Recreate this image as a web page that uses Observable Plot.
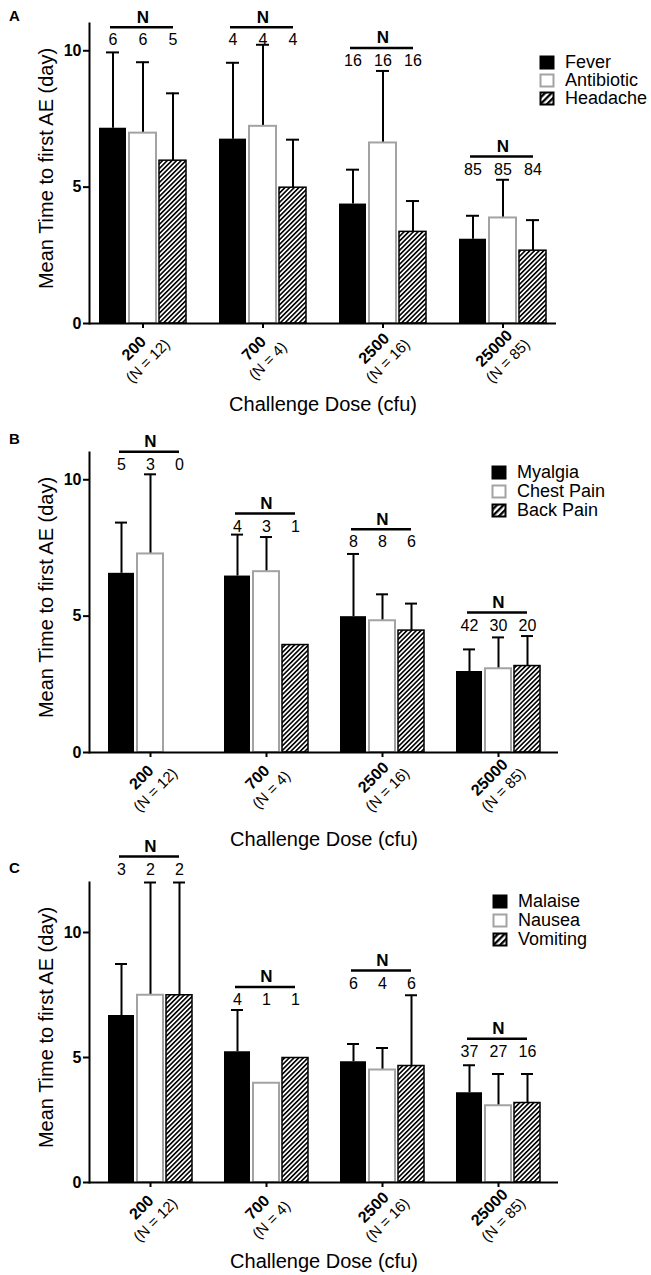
<!DOCTYPE html>
<html><head><meta charset="utf-8">
<script src="https://cdn.jsdelivr.net/npm/d3@7"></script>
<script src="https://cdn.jsdelivr.net/npm/@observablehq/plot@0.6"></script>
<style>
html,body{margin:0;padding:0;background:#fff;}
#page{position:relative;width:651px;height:1275px;overflow:hidden;font-family:"Liberation Sans",Arial,sans-serif;}
.panel{position:absolute;left:0;}
.legend{position:absolute;font-size:18px;color:#000;font-family:"Liberation Sans",Arial,sans-serif;}
.legend .row{display:flex;align-items:center;white-space:nowrap;}
.legend svg{margin-right:10px;flex:none;}
</style></head><body><div id="page"></div>
<script>
const doses = ["200", "700", "2500", "25000"];
const doseN = ["(N = 12)", "(N = 4)", "(N = 16)", "(N = 85)"];

// Panel A
const seriesA = ["Fever", "Antibiotic", "Headache"];
const feverMean = [7.16, 6.76, 4.38, 3.09];
const feverErr = [9.94, 9.56, 5.64, 3.95];
const feverN = [6, 4, 16, 85];
const antibioticMean = [6.98, 7.23, 6.62, 3.87];
const antibioticErr = [9.58, 10.22, 9.26, 5.27];
const antibioticN = [6, 4, 16, 85];
const headacheMean = [5.97, 4.98, 3.36, 2.67];
const headacheErr = [8.44, 6.74, 4.49, 3.79];
const headacheN = [5, 4, 16, 84];
const nLevelA = [10.86, 10.86, 10.1, 6.12];

// Panel B
const seriesB = ["Myalgia", "Chest Pain", "Back Pain"];
const myalgiaMean = [6.57, 6.47, 4.98, 2.97];
const myalgiaErr = [8.43, 7.99, 7.28, 3.78];
const myalgiaN = [5, 4, 8, 42];
const chestMean = [7.28, 6.63, 4.83, 3.07];
const chestErr = [10.2, 7.9, 5.8, 4.22];
const chestN = [3, 3, 8, 30];
const backMean = [null, 3.94, 4.47, 3.17];
const backErr = [null, null, 5.46, 4.27];
const backN = [0, 1, 6, 20];
const nLevelB = [11.03, 8.76, 8.19, 5.13];

// Panel C
const seriesC = ["Malaise", "Nausea", "Vomiting"];
const malaiseMean = [6.68, 5.23, 4.83, 3.59];
const malaiseErr = [8.74, 6.9, 5.54, 4.69];
const malaiseN = [3, 4, 6, 37];
const nauseaMean = [7.49, 3.97, 4.5, 3.07];
const nauseaErr = [12, null, 5.38, 4.34];
const nauseaN = [2, 1, 4, 27];
const vomitingMean = [7.49, 4.98, 4.66, 3.18];
const vomitingErr = [12, null, 7.49, 4.34];
const vomitingN = [2, 1, 6, 16];
const nLevelC = [13.04, 7.82, 8.48, 5.75];

const FONT = "Liberation Sans, Arial, sans-serif";
const GRAY = "#a3a3a3";
const page = document.getElementById("page");

function drawPanel(cfg) {
  const {letter, series, means, errs, counts, nLevel, yMax, top, height, marginTop, marginBottom,
         marginRight, paddingInner, paddingOuter, titleDy, letterDy, legend} = cfg;
  const rows = [];
  const domain = [];
  doses.forEach((dose, i) => {
    if (i > 0) domain.push("gap" + i);
    series.forEach((s, j) => {
      const key = dose + "|" + s;
      domain.push(key);
      rows.push({key, dose, i, j, series: s, mean: means[j][i], err: errs[j][i], n: counts[j][i]});
    });
  });
  const groups = doses.map((dose, i) => ({
    dose, label: doseN[i], y: nLevel[i],
    first: dose + "|" + series[0], mid: dose + "|" + series[1], last: dose + "|" + series[2]
  }));
  const bars = rows.filter(d => d.mean != null);
  const errRows = rows.filter(d => d.err != null);
  const hatchId = "hatch" + letter;
  const styles = [
    {fill: "black"},
    {fill: "white", stroke: GRAY, strokeWidth: 2},
    {fill: `url(#${hatchId})`, stroke: "black", strokeWidth: 1.5}
  ];
  const mid = {textAnchor: "middle", lineAnchor: "middle"};
  const plot = Plot.plot({
    width: 651, height, marginTop, marginBottom, marginLeft: 89, marginRight,
    style: {background: "transparent", fontFamily: FONT, color: "black", overflow: "visible"},
    x: {domain, paddingInner, paddingOuter, axis: null},
    y: {domain: [0, yMax], axis: null},
    marks: [
      Plot.ruleX(errRows, {x: "key", y1: "mean", y2: "err", stroke: "black", strokeWidth: 2}),
      Plot.tickY(errRows, {x: "key", y: "err", stroke: "black", strokeWidth: 2, insetLeft: 7, insetRight: 7}),
      ...styles.map((st, j) => Plot.barY(bars.filter(d => d.j === j), {x: "key", y: "mean", ...st})),
      Plot.ruleY([0], {stroke: "black", strokeWidth: 2}),
      Plot.frame({anchor: "left", stroke: "black", strokeWidth: 2}),
      Plot.axisY({ticks: [0, 5, 10], tickSize: 6, tickPadding: 2, fontSize: 16, fontWeight: "bold", strokeWidth: 2, label: null}),
      Plot.axisX(groups.map(g => g.mid), {tickSize: 5, tickFormat: () => "", strokeWidth: 2, label: null}),
      Plot.text(groups, {x: "mid", frameAnchor: "bottom", text: "dose", rotate: -45, dx: -9, dy: 25, fontSize: 16, fontWeight: "bold", ...mid}),
      Plot.text(groups, {x: "mid", frameAnchor: "bottom", text: "label", rotate: -45, dx: 5, dy: 37.5, fontSize: 15, ...mid}),
      Plot.text(["Challenge Dose (cfu)"], {frameAnchor: "bottom", dy: titleDy, fontSize: 20, ...mid}),
      Plot.text(["Mean Time to first AE (day)"], {frameAnchor: "left", rotate: -90, dx: -43, dy: -5, fontSize: 20, ...mid}),
      Plot.text([letter], {frameAnchor: "top-left", dx: -75, dy: letterDy, fontSize: 15, fontWeight: "bold", ...mid}),
      Plot.ruleY(groups, {y: "y", x1: "first", x2: "last", stroke: "black", strokeWidth: 2.5, insetLeft: 11, insetRight: 13}),
      Plot.text(groups, {x: "mid", y: "y", text: () => "N", dy: -10, fontSize: 17, fontWeight: "bold", ...mid}),
      Plot.text(rows, {x: "key", y: d => nLevel[d.i], text: d => String(d.n), dy: 13, fontSize: 16, ...mid})
    ]
  });
  d3.select(plot).insert("defs", ":first-child").html(
    `<pattern id="${hatchId}" patternUnits="userSpaceOnUse" width="3.3" height="3.3" patternTransform="rotate(45)">` +
    `<rect width="3.3" height="3.3" fill="white"/><rect x="0" y="0" width="1.6" height="3.3" fill="black"/></pattern>`);
  plot.classList.add("panel");
  plot.style.top = top + "px";
  page.appendChild(plot);

  // legend
  const leg = document.createElement("div");
  leg.className = "legend";
  leg.style.left = legend.left + "px";
  leg.style.top = legend.top + "px";
  series.forEach((s, j) => {
    const row = document.createElement("div");
    row.className = "row";
    row.style.height = legend.rowH + "px";
    const pid = "lh" + letter;
    let sw;
    if (j === 0) sw = `<rect x="1" y="1" width="14" height="13" fill="black" stroke="black" stroke-width="1"/>`;
    else if (j === 1) sw = `<rect x="1.5" y="1.5" width="13" height="12" fill="white" stroke="${GRAY}" stroke-width="2"/>`;
    else sw = `<defs><pattern id="${pid}" patternUnits="userSpaceOnUse" width="4.6" height="4.6" patternTransform="rotate(45)"><rect width="4.6" height="4.6" fill="white"/><rect width="2.3" height="4.6" fill="black"/></pattern></defs>` +
      `<rect x="1.5" y="1.5" width="13" height="12" fill="url(#${pid})" stroke="black" stroke-width="2"/>`;
    row.innerHTML = `<svg width="16" height="15" viewBox="0 0 16 15">${sw}</svg><span>${s}</span>`;
    leg.appendChild(row);
  });
  page.appendChild(leg);
}

drawPanel({
  letter: "A", series: seriesA,
  means: [feverMean, antibioticMean, headacheMean],
  errs: [feverErr, antibioticErr, headacheErr],
  counts: [feverN, antibioticN, headacheN],
  nLevel: nLevelA, yMax: 11, top: 0, height: 425, marginTop: 23, marginBottom: 102,
  marginRight: 95, paddingInner: 0.112, paddingOuter: 0.23, titleDy: 81, letterDy: -7.7,
  legend: {left: 539, top: 54, rowH: 17.7}
});
drawPanel({
  letter: "B", series: seriesB,
  means: [myalgiaMean, chestMean, backMean],
  errs: [myalgiaErr, chestErr, backErr],
  counts: [myalgiaN, chestN, backN],
  nLevel: nLevelB, yMax: 11, top: 425, height: 425, marginTop: 27, marginBottom: 98,
  marginRight: 93, paddingInner: 0.105, paddingOuter: 0.47, titleDy: 87, letterDy: -13.3,
  legend: {left: 491, top: 463, rowH: 19}
});
drawPanel({
  letter: "C", series: seriesC,
  means: [malaiseMean, nauseaMean, vomitingMean],
  errs: [malaiseErr, nauseaErr, vomitingErr],
  counts: [malaiseN, nauseaN, vomitingN],
  nLevel: nLevelC, yMax: 12, top: 800, height: 475, marginTop: 82, marginBottom: 93,
  marginRight: 93, paddingInner: 0.105, paddingOuter: 0.47, titleDy: 79, letterDy: -14,
  legend: {left: 492, top: 892, rowH: 19}
});
</script></body></html>
